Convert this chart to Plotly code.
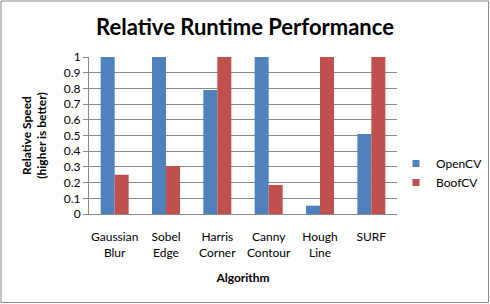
import plotly.graph_objects as go

categories = ["Gaussian<br>Blur", "Sobel<br>Edge", "Harris<br>Corner", "Canny<br>Contour", "Hough<br>Line", "SURF"]
opencv = [1.0, 1.0, 0.79, 1.0, 0.053, 0.51]
boofcv = [0.25, 0.305, 1.0, 0.185, 1.0, 1.0]
y_ticks = [0, 0.1, 0.2, 0.3, 0.4, 0.5, 0.6, 0.7, 0.8, 0.9, 1]
y_tick_labels = ["0", "0.1", "0.2", "0.3", "0.4", "0.5", "0.6", "0.7", "0.8", "0.9", "1"]
series_names = ["OpenCV", "BoofCV"]
series_colors = ["#4F81BD", "#C0504D"]

FONT = "Lato, Open Sans, sans-serif"

fig = go.Figure()
for name, vals, col in zip(series_names, [opencv, boofcv], series_colors):
    fig.add_trace(go.Bar(x=categories, y=vals, name=name, marker=dict(color=col, line=dict(width=0)),
                         showlegend=False))
for name, col in zip(series_names, series_colors):
    fig.add_trace(go.Scatter(x=[None], y=[None], mode="markers", name=name,
                             marker=dict(symbol="square", size=7, color=col), showlegend=True))

L, R, T, B = 89, 93, 57, 90
W, H = 490, 304
pw, ph = W - L - R, H - T - B

fig.update_layout(
    width=W, height=H,
    margin=dict(l=L, r=R, t=T, b=B, autoexpand=False),
    paper_bgcolor="white", plot_bgcolor="white",
    barmode="group", bargap=0.455, bargroupgap=0,
    font=dict(family=FONT, size=12, color="black"),
    title=dict(text="<b>Relative Runtime Performance</b>", x=0.5, xanchor="center",
               y=1 - 27 / H, yanchor="middle", font=dict(size=22, family=FONT)),
    legend=dict(xref="container", yref="container", x=396 / W, xanchor="left", y=1 - 149 / H, yanchor="top",
                font=dict(size=12), itemwidth=30, tracegroupgap=6, bgcolor="rgba(0,0,0,0)"),
    showlegend=True,
)
fig.update_xaxes(showline=True, linecolor="#888888", linewidth=1, ticks="", tickfont=dict(size=12),
                 ticklabelstandoff=12, automargin=False,
                 title=dict(text="<b>Algorithm</b>", font=dict(size=12), standoff=14))
fig.update_yaxes(range=[0, 1], tickvals=y_ticks, ticktext=y_tick_labels, showgrid=True,
                 gridcolor="#888888", gridwidth=1, showline=True, linecolor="#888888", linewidth=1,
                 ticks="outside", ticklen=5, tickcolor="#888888", zeroline=False, tickfont=dict(size=12),
                 automargin=False,
                 title=dict(text="<b>Relative Speed<br>(higher is better)</b>", font=dict(size=12), standoff=14))
fig.add_shape(type="rect", xref="paper", yref="paper",
              x0=(1 - L) / pw, x1=(488.5 - L) / pw, y0=(214 - 302.5) / ph, y1=(214 - 1) / ph,
              line=dict(color="#888888", width=1), fillcolor="rgba(0,0,0,0)", layer="above")
fig.write_html("out.html")
